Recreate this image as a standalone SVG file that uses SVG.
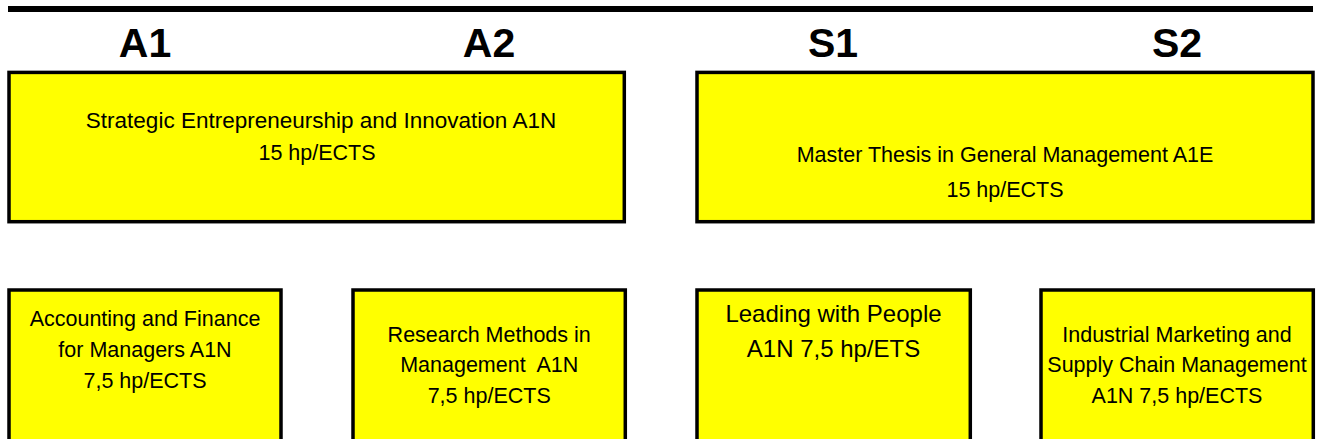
<svg xmlns="http://www.w3.org/2000/svg" width="1317" height="439" viewBox="0 0 1317 439">
<style>
.box{fill:#ffff00;stroke:#000;stroke-width:3.5}
.hd{font-family:"Liberation Sans",Arial,sans-serif;font-weight:bold;font-size:41px;fill:#000;text-anchor:middle}
.t{font-family:"Liberation Sans",Arial,sans-serif;font-size:21.5px;fill:#000;text-anchor:middle}
.tl{font-family:"Liberation Sans",Arial,sans-serif;font-size:24px;fill:#000;text-anchor:middle}
</style>
<rect x="8" y="6" width="1305" height="6" fill="#000"/>
<g id="headings">
<text class="hd" x="145" y="57">A1</text>
<text class="hd" x="489" y="57">A2</text>
<text class="hd" x="833" y="57">S1</text>
<text class="hd" x="1177" y="57">S2</text>
</g>
<g id="strategic">
<rect class="box" x="9" y="72.4" width="615.3" height="149.3"/>
<text class="t" x="321" y="128" style="font-size:22.5px">Strategic Entrepreneurship and Innovation A1N</text>
<text class="t" x="317" y="160">15 hp/ECTS</text>
</g>
<g id="thesis">
<rect class="box" x="697" y="72.4" width="616" height="149.3"/>
<text class="t" x="1005" y="162">Master Thesis in General Management A1E</text>
<text class="t" x="1005" y="197">15 hp/ECTS</text>
</g>
<g id="accounting">
<rect class="box" x="9" y="290" width="272" height="170"/>
<text class="t" x="145" y="325.7">Accounting and Finance</text>
<text class="t" x="145" y="357.3">for Managers A1N</text>
<text class="t" x="145" y="388.3">7,5 hp/ECTS</text>
</g>
<g id="research">
<rect class="box" x="353" y="290" width="272.3" height="170"/>
<text class="t" x="489.2" y="341.7">Research Methods in</text>
<text class="t" x="489.2" y="372.3" xml:space="preserve">Management  A1N</text>
<text class="t" x="489.2" y="403.3">7,5 hp/ECTS</text>
</g>
<g id="leading">
<rect class="box" x="697" y="290" width="273.3" height="170"/>
<text class="tl" x="833.5" y="321.7">Leading with People</text>
<text class="tl" x="833.5" y="356.7">A1N 7,5 hp/ETS</text>
</g>
<g id="industrial">
<rect class="box" x="1041" y="290" width="272.3" height="170"/>
<text class="t" x="1177" y="341.7">Industrial Marketing and</text>
<text class="t" x="1177" y="372.3">Supply Chain Management</text>
<text class="t" x="1177" y="403.3">A1N 7,5 hp/ECTS</text>
</g>
<g id="connectors"></g>
</svg>
